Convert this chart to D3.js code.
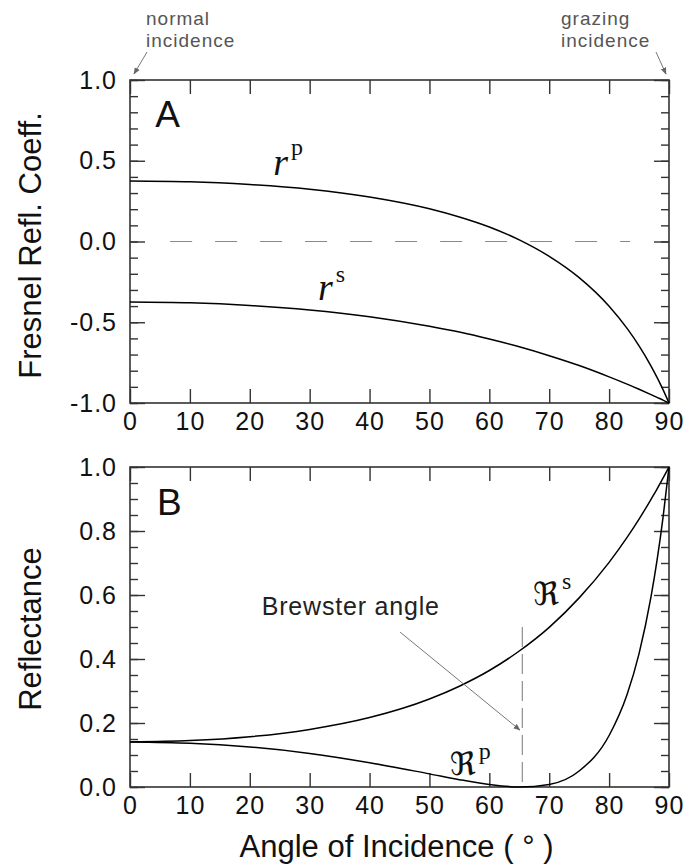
<!DOCTYPE html>
<html>
<head>
<meta charset="utf-8">
<script src="https://cdn.jsdelivr.net/npm/d3@7"></script>
<style>
  body { margin: 0; background: #fff; }
  text { font-family: "Liberation Sans", Arial, Helvetica, sans-serif; }
</style>
</head>
<body>
<div id="plot"></div>
<script>
// angle of incidence (degrees) and values
const angles = [0, 10, 20, 30, 40, 50, 55, 60, 65, 70, 75, 80, 83, 85, 87, 88, 89, 90];
const rP = [0.375, 0.370, 0.353, 0.324, 0.276, 0.203, 0.152, 0.090, 0.010, -0.092, -0.224, -0.401, -0.538, -0.646, -0.771, -0.841, -0.917, -1.0];
const rS = [-0.375, -0.380, -0.396, -0.424, -0.466, -0.525, -0.561, -0.604, -0.652, -0.707, -0.768, -0.838, -0.883, -0.915, -0.948, -0.965, -0.982, -1.0];
const reflS = [0.141, 0.145, 0.157, 0.180, 0.217, 0.275, 0.315, 0.364, 0.425, 0.499, 0.591, 0.702, 0.780, 0.837, 0.899, 0.931, 0.965, 1.0];
const reflP = [0.141, 0.137, 0.125, 0.105, 0.076, 0.041, 0.023, 0.008, 0.000, 0.008, 0.050, 0.161, 0.289, 0.417, 0.595, 0.708, 0.842, 1.0];

const xTicks = [0, 10, 20, 30, 40, 50, 60, 70, 80, 90];
const aTicks = [-1.0, -0.5, 0.0, 0.5, 1.0];
const aMinor = d3.range(-10, 11).map(d => d / 10);
const bTicks = [0.0, 0.2, 0.4, 0.6, 0.8, 1.0];
const bMinor = d3.range(0, 21).map(d => d / 20);

const brewster = 65.5;

const svgWidth = 689, svgHeight = 866;
const left = 130, right = 669;
const topA = 80, bottomA = 403;
const topB = 467, bottomB = 787;

const svg = d3.select('#plot')
    .append('svg')
    .attr("width", svgWidth)
    .attr("height", svgHeight);

const x = d3.scaleLinear().domain([0, 90]).range([left, right]);
const yA = d3.scaleLinear().domain([-1, 1]).range([bottomA, topA]);
const yB = d3.scaleLinear().domain([0, 1]).range([bottomB, topB]);

const axisColor = "#333";

// draws the frame, ticks and tick labels of one panel
function drawFrame(y, major, minor, top, bottom, fmt) {
    const g = svg.append("g");

    g.append("g").attr("transform", "translate(0," + bottom + ")")
        .call(d3.axisBottom(x).tickValues(xTicks).tickSize(-14).tickPadding(9).tickFormat(d => d));
    g.append("g").attr("transform", "translate(0," + top + ")")
        .call(d3.axisTop(x).tickValues(xTicks).tickSize(-14).tickFormat(""));

    g.append("g").attr("transform", "translate(" + left + ",0)")
        .call(d3.axisLeft(y).tickValues(major).tickSize(-15).tickPadding(13).tickFormat(fmt));
    g.append("g").attr("transform", "translate(" + left + ",0)")
        .call(d3.axisLeft(y).tickValues(minor).tickSize(-8).tickFormat(""));
    g.append("g").attr("transform", "translate(" + right + ",0)")
        .call(d3.axisRight(y).tickValues(major).tickSize(-15).tickFormat(""));
    g.append("g").attr("transform", "translate(" + right + ",0)")
        .call(d3.axisRight(y).tickValues(minor).tickSize(-8).tickFormat(""));

    g.selectAll(".domain").remove();
    g.selectAll(".tick line").attr("stroke", axisColor).attr("stroke-width", 1.4);
    g.selectAll(".tick text")
        .attr("fill", "#111")
        .style("font-size", "25px")
        .style("letter-spacing", "1px")
        .style("font-family", "'Liberation Sans', Arial, sans-serif");

    g.append("rect")
        .attr("x", left).attr("y", top)
        .attr("width", right - left).attr("height", bottom - top)
        .attr("fill", "none")
        .attr("stroke", axisColor)
        .attr("stroke-width", 1.6);
}

drawFrame(yA, aTicks, aMinor, topA, bottomA, d => d.toFixed(1));
drawFrame(yB, bTicks, bMinor, topB, bottomB, d => d.toFixed(1));

// arrow marker for annotations
svg.append("defs").append("marker")
    .attr("id", "arrow")
    .attr("viewBox", "0 0 10 10")
    .attr("refX", 9).attr("refY", 5)
    .attr("markerWidth", 7).attr("markerHeight", 7)
    .attr("orient", "auto")
    .append("path")
    .attr("d", "M0,1 L10,5 L0,9 Z")
    .attr("fill", "#666");

// zero line of panel A
svg.append("line")
    .attr("x1", x(6.7)).attr("x2", x(83.5))
    .attr("y1", yA(0)).attr("y2", yA(0))
    .attr("stroke", "#888")
    .attr("stroke-width", 1)
    .attr("stroke-dasharray", "22,23");

// Brewster angle marker
svg.append("line")
    .attr("x1", x(brewster)).attr("x2", x(brewster))
    .attr("y1", yB(0.5)).attr("y2", yB(0))
    .attr("stroke", "#777")
    .attr("stroke-width", 1)
    .attr("stroke-dasharray", "20,7");

// curves
const lineA = d3.line()
    .x(d => x(d[0]))
    .y(d => yA(d[1]))
    .curve(d3.curveMonotoneX);
const lineB = d3.line()
    .x(d => x(d[0]))
    .y(d => yB(d[1]))
    .curve(d3.curveMonotoneX);

[rP, rS].forEach(function(vals) {
    svg.append("path")
        .datum(d3.zip(angles, vals))
        .attr("d", lineA)
        .attr("fill", "none")
        .attr("stroke", "#000")
        .attr("stroke-width", 1.5);
});
[reflS, reflP].forEach(function(vals) {
    svg.append("path")
        .datum(d3.zip(angles, vals))
        .attr("d", lineB)
        .attr("fill", "none")
        .attr("stroke", "#000")
        .attr("stroke-width", 1.5);
});

// panel letters
svg.append("text").attr("x", x(4.2)).attr("y", yA(0.709))
    .style("font-size", "37px").attr("fill", "#111").text("A");
svg.append("text").attr("x", x(4.5)).attr("y", yB(0.85))
    .style("font-size", "37px").attr("fill", "#111").text("B");

// curve labels
function curveLabel(px, py, main, sup, mainStyle, size, supRise) {
    const t = svg.append("text")
        .attr("x", px).attr("y", py)
        .attr("fill", "#111")
        .style("font-family", mainStyle.family)
        .style("font-style", mainStyle.style)
        .style("font-size", size + "px");
    t.append("tspan").text(main);
    t.append("tspan")
        .attr("dx", 3)
        .attr("dy", -supRise)
        .style("font-style", "normal")
        .style("font-family", "'Liberation Serif', 'DejaVu Serif', serif")
        .style("font-size", "24px")
        .text(sup);
}
const italicR = { family: "'Liberation Serif', 'DejaVu Serif', serif", style: "italic" };
const fraktur = { family: "'DejaVu Serif', 'DejaVu Sans', serif", style: "normal" };
curveLabel(x(23.9), yA(0.41), "r", "p", italicR, 38, 20);
curveLabel(x(31.4), yA(-0.362), "r", "s", italicR, 38, 18);
curveLabel(x(67.3), yB(0.569), "\u211C", "s", fraktur, 32, 16);
curveLabel(x(53.4), yB(0.0375), "\u211C", "p", fraktur, 32, 16);

// Brewster annotation
svg.append("text").attr("x", x(22)).attr("y", yB(0.5375))
    .style("font-size", "25px").style("letter-spacing", "0.8px")
    .attr("fill", "#222").text("Brewster angle");
svg.append("line")
    .attr("x1", x(45.1)).attr("y1", yB(0.484))
    .attr("x2", x(65.1)).attr("y2", yB(0.178))
    .attr("stroke", "#777").attr("stroke-width", 1)
    .attr("marker-end", "url(#arrow)");

// normal / grazing incidence notes
const notes = [
    { lines: ["normal", "incidence"], tx: 146, from: [147, 52], to: [134, 74] },
    { lines: ["grazing", "incidence"], tx: 561, from: [656, 52], to: [666, 74] }
];
notes.forEach(function(n) {
    const t = svg.append("text")
        .attr("x", n.tx).attr("y", 25)
        .style("font-size", "19px")
        .style("letter-spacing", "1px")
        .attr("fill", "#555");
    n.lines.forEach(function(s, i) {
        t.append("tspan").attr("x", n.tx).attr("dy", i === 0 ? 0 : 22).text(s);
    });
    svg.append("line")
        .attr("x1", n.from[0]).attr("y1", n.from[1])
        .attr("x2", n.to[0]).attr("y2", n.to[1])
        .attr("stroke", "#777").attr("stroke-width", 1)
        .attr("marker-end", "url(#arrow)");
});

// axis titles
svg.append("text")
    .attr("transform", "translate(41," + ((topA + bottomA) / 2 + 4) + ") rotate(-90)")
    .attr("text-anchor", "middle")
    .style("font-size", "31px").attr("fill", "#111")
    .text("Fresnel Refl.  Coeff.");
svg.append("text")
    .attr("transform", "translate(41," + ((topB + bottomB) / 2 + 2) + ") rotate(-90)")
    .attr("text-anchor", "middle")
    .style("font-size", "31px").attr("fill", "#111")
    .text("Reflectance");
svg.append("text")
    .attr("x", (left + right) / 2 - 3).attr("y", 857)
    .attr("text-anchor", "middle")
    .style("font-size", "31px").attr("fill", "#111")
    .text("Angle of Incidence ( \u00B0 )");
</script>
</body>
</html>
